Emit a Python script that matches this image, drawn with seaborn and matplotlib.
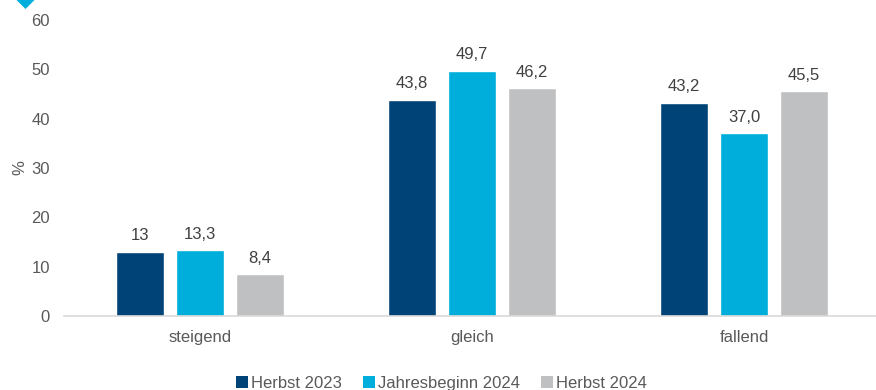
import matplotlib
matplotlib.use("Agg")
import matplotlib.pyplot as plt
from matplotlib.patches import Polygon, Patch
import seaborn as sns
import pandas as pd

categories = ["steigend", "gleich", "fallend"]
series = ["Herbst 2023", "Jahresbeginn 2024", "Herbst 2024"]
herbst_2023 = [13.0, 43.8, 43.2]
jahresbeginn_2024 = [13.3, 49.7, 37.0]
herbst_2024 = [8.4, 46.2, 45.5]
value_labels = [["13", "43,8", "43,2"], ["13,3", "49,7", "37,0"], ["8,4", "46,2", "45,5"]]
y_ticks = [0, 10, 20, 30, 40, 50, 60]

colors = ["#004477", "#00AEDB", "#BFC0C2"]
text_color = "#595959"
fs = 12

sns.set_theme(style="white")
plt.rcParams["font.family"] = ["Liberation Sans", "DejaVu Sans"]

rows = []
for s, vals in zip(series, [herbst_2023, jahresbeginn_2024, herbst_2024]):
    for c, v in zip(categories, vals):
        rows.append({"Kategorie": c, "Serie": s, "Wert": v})
df = pd.DataFrame(rows)

fig = plt.figure(figsize=(8.76, 3.9), dpi=100)
ax = fig.add_axes([0.073, 0.19, 0.9315, 0.759])

sns.barplot(data=df, x="Kategorie", y="Wert", hue="Serie", order=categories,
            hue_order=series, palette=colors, width=0.66, gap=0.2,
            saturation=1, legend=False, ax=ax)

# value labels above each bar
for container, labels in zip(ax.containers, value_labels):
    ax.bar_label(container, labels=labels, padding=6, fontsize=fs, color="#404040")

ax.set_ylim(0, 60)
ax.set_yticks(y_ticks)
ax.set_xlim(-0.5, 2.5)
ax.tick_params(axis="both", length=0, labelsize=fs, colors=text_color)
ax.tick_params(axis="x", pad=10)
ax.tick_params(axis="y", pad=10)
ax.set_xlabel("")
ax.set_ylabel("%", fontsize=fs, color=text_color)
ax.yaxis.set_label_coords(-0.045, 0.5)
for side in ["top", "right", "left"]:
    ax.spines[side].set_visible(False)
ax.spines["bottom"].set_color("#D9D9D9")
ax.spines["bottom"].set_linewidth(1.2)

handles = [Patch(facecolor=c, edgecolor="none") for c in colors]
fig.legend(handles, series, loc="lower center", bbox_to_anchor=(0.504, -0.04), ncol=3,
           frameon=False, fontsize=fs, handlelength=0.7, handleheight=0.7,
           handletextpad=0.2, columnspacing=1.25, labelcolor=text_color)

# corner diamond accent
W, H = 876, 390
pts = [(25.5, -12), (36, -1.5), (25.5, 9), (15, -1.5)]
fig.patches.append(Polygon([(x / W, 1 - y / H) for x, y in pts], closed=True,
                           facecolor="#00AEDB", edgecolor="none",
                           transform=fig.transFigure, figure=fig))

fig.savefig("out.png", dpi=100)
